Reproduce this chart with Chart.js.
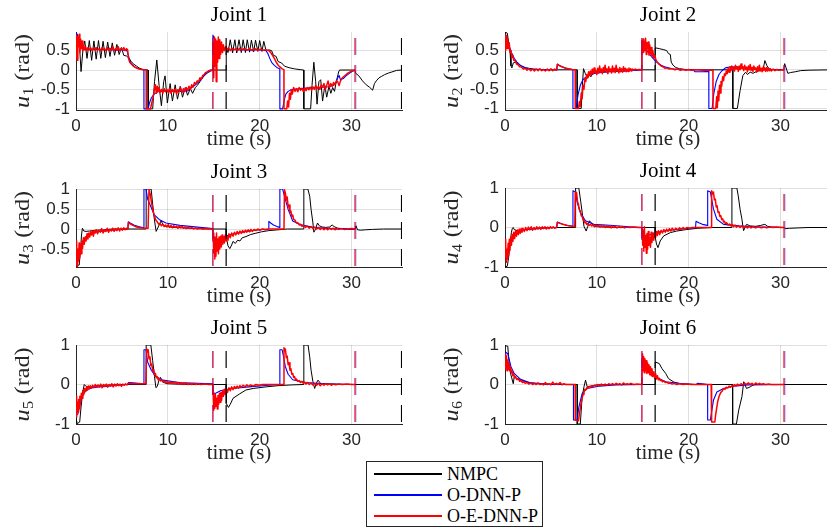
<!DOCTYPE html>
<html>
<head>
<meta charset="utf-8">
<script src="https://cdn.jsdelivr.net/npm/chart.js@4.4.1/dist/chart.umd.min.js"></script>
<style>
  body { margin: 0; width: 827px; height: 528px; overflow: hidden; background: #fff; position: relative; }
  canvas { position: absolute; }
  #legend { position: absolute; left: 366px; top: 461px; width: 175px; height: 64px; border: 1px solid #262626;
            background: #fff; font: 18px "Liberation Serif", serif; color: #000; }
  .entry { position: absolute; left: 0; width: 100%; height: 20px; line-height: 20px; }
  .entry i { position: absolute; left: 7px; top: 9px; width: 68px; height: 1.5px; }
  .entry span { position: absolute; left: 80px; top: 0; white-space: nowrap; }
</style>
</head>
<body>
<canvas id="j1"></canvas>
<canvas id="j2"></canvas>
<canvas id="j3"></canvas>
<canvas id="j4"></canvas>
<canvas id="j5"></canvas>
<canvas id="j6"></canvas>
<div id="legend">
  <div class="entry" style="top:2px"><i style="background:#000"></i><span>NMPC</span></div>
  <div class="entry" style="top:23px"><i style="background:#0000ff"></i><span>O-DNN-P</span></div>
  <div class="entry" style="top:44px"><i style="background:#ff0000"></i><span>O-E-DNN-P</span></div>
</div>
<script>
// axis ticks
const timeTicks = [0, 10, 20, 30];
const yTicksWide = [-1, -0.5, 0, 0.5];
const yTicksJ3 = [-0.5, 0, 0.5, 1];
const yTicksUnit = [-1, 0, 1];

// time (s) at which each controller finishes a run
const nmpcEnds = [16.35, 35.45];
const dnnEnds = [14.9, 30.45];
const ednnEnds = [14.9, 30.37];

// joint 1 inputs, [t, u]
const nmpc1 = [[0,0.96],[0.2,0.9],[0.4,0.55],[0.55,-0.04],[0.75,0.5],[0.95,0.75],[1.2,0.3],[1.45,0.76],[1.7,0.25],[1.95,0.75],[2.2,0.28],[2.45,0.76],[2.7,0.3],[2.95,0.74],[3.2,0.32],[3.45,0.72],[3.7,0.35],[3.95,0.7],[4.2,0.38],[4.45,0.66],[4.7,0.4],[4.95,0.58],[5.2,0.38],[5.5,0.36],[5.8,0.3],[6.0,0.22],[6.3,0.15],[6.6,0.1],[6.9,0.05],[7.2,0.02],[7.5,0.01],[7.85,0],[7.86,-1],[8.35,-1],[8.55,-0.3],[8.8,0.26],[9.05,-0.4],[9.3,-0.92],[9.55,-0.3],[9.7,-0.15],[9.95,-0.85],[10.25,-0.35],[10.5,-0.8],[10.8,-0.38],[11.05,-0.75],[11.35,-0.42],[11.6,-0.7],[11.9,-0.45],[12.15,-0.65],[12.45,-0.48],[12.7,-0.6],[13.0,-0.45],[13.2,-0.4],[13.5,-0.3],[13.8,-0.2],[14.1,-0.08],[14.4,-0.02],[14.6,0],[16.35,0],[16.36,0.6],[16.55,0.45],[16.8,0.78],[17.05,0.44],[17.3,0.78],[17.5,0.44],[17.75,0.78],[18.0,0.45],[18.2,0.78],[18.45,0.45],[18.65,0.78],[18.9,0.46],[19.1,0.77],[19.35,0.47],[19.55,0.77],[19.8,0.48],[20.0,0.76],[20.25,0.48],[20.45,0.74],[20.7,0.5],[21.0,0.52],[21.3,0.5],[21.5,0.38],[21.8,0.35],[22.0,0.22],[22.4,0.18],[22.7,0.1],[23.2,0.06],[23.8,0.03],[24.4,0.01],[24.8,0],[24.81,-1],[25.55,-1],[25.7,-0.4],[25.9,0.2],[26.1,-0.3],[26.25,-0.88],[26.45,-0.3],[26.65,-0.25],[26.85,-0.8],[27.1,-0.4],[27.3,-0.7],[27.55,-0.42],[27.75,-0.6],[27.95,-0.45],[28.15,-0.55],[28.3,-0.35],[28.45,-0.2],[28.6,-0.05],[28.7,0],[30.35,0],[30.45,-0.08],[30.8,-0.15],[31.2,-0.28],[31.6,-0.38],[32.0,-0.45],[32.3,-0.52],[32.5,-0.35],[32.7,-0.28],[33.0,-0.2],[33.3,-0.16],[33.6,-0.12],[34.0,-0.08],[34.4,-0.05],[34.9,-0.01],[35.45,0]];
const dnn1 = [[0,0.97],[0.15,0.9],[0.35,0.65],[0.6,0.56],[1.0,0.54],[2,0.53],[3,0.53],[4,0.52],[5,0.52],[5.55,0.5],[5.7,0.38],[5.85,0.25],[6.0,0.18],[6.3,0.1],[6.6,0.05],[7.0,0.02],[7.39,0.01],[7.4,-1],[7.85,-1],[8.0,-0.85],[8.2,-0.72],[8.5,-0.62],[8.9,-0.56],[9.5,-0.54],[10.5,-0.55],[11.5,-0.55],[12.2,-0.53],[12.6,-0.45],[13.0,-0.38],[13.4,-0.3],[13.8,-0.18],[14.2,-0.09],[14.6,-0.03],[14.9,0],[14.91,0.9],[15.2,0.75],[15.6,0.62],[16.0,0.56],[17,0.53],[18,0.52],[19,0.52],[20,0.52],[20.7,0.5],[20.9,0.42],[21.1,0.3],[21.3,0.2],[21.6,0.12],[21.9,0.06],[22.19,0.03],[22.2,-1],[22.5,-1],[22.65,-0.8],[22.85,-0.62],[23.1,-0.55],[23.5,-0.5],[24.5,-0.48],[25.5,-0.46],[26.5,-0.45],[27.5,-0.43],[28.0,-0.4],[28.3,-0.33],[28.5,-0.2],[28.65,-0.14],[28.8,-0.25],[29.1,-0.22],[29.4,-0.15],[29.8,-0.08],[30.1,-0.03],[30.4,0]];
const ednn1 = [[0,0.3],[0.05,0.9],[0.12,0.25],[0.2,0.85],[0.28,0.6],[0.35,0.92],[0.42,0.45],[0.5,0.8],[0.58,0.55],[0.66,0.75],[0.75,0.5],[0.85,0.62],[0.95,0.52],[1.05,0.6],[1.15,0.5],[1.3,0.58],[1.45,0.52],[1.6,0.57],[1.75,0.5],[1.9,0.56],[2.05,0.52],[2.2,0.58],[2.35,0.51],[2.5,0.55],[2.65,0.5],[2.8,0.57],[2.95,0.52],[3.1,0.55],[3.25,0.5],[3.4,0.58],[3.55,0.51],[3.7,0.56],[3.85,0.52],[4.0,0.6],[4.15,0.5],[4.3,0.55],[4.45,0.51],[4.6,0.6],[4.75,0.5],[4.9,0.56],[5.05,0.52],[5.2,0.58],[5.35,0.5],[5.5,0.55],[5.62,0.52],[5.72,0.3],[5.85,0.2],[6.0,0.16],[6.2,0.11],[6.45,0.07],[6.7,0.04],[7.0,0.02],[7.3,0.01],[7.64,0],[7.65,-1],[8.1,-1],[8.25,-0.85],[8.4,-0.7],[8.55,-0.5],[8.65,-0.38],[8.75,-0.6],[8.85,-0.42],[8.95,-0.55],[9.05,-0.45],[9.15,-0.58],[9.3,-0.5],[9.45,-0.6],[9.6,-0.48],[9.75,-0.56],[9.9,-0.5],[10.05,-0.58],[10.2,-0.47],[10.35,-0.6],[10.5,-0.5],[10.65,-0.57],[10.8,-0.49],[10.95,-0.62],[11.1,-0.5],[11.25,-0.55],[11.4,-0.46],[11.55,-0.58],[11.7,-0.48],[11.85,-0.55],[12.0,-0.45],[12.15,-0.53],[12.3,-0.42],[12.45,-0.5],[12.6,-0.38],[12.75,-0.44],[12.9,-0.32],[13.05,-0.36],[13.2,-0.28],[13.35,-0.3],[13.5,-0.2],[13.65,-0.24],[13.8,-0.14],[13.95,-0.12],[14.1,-0.07],[14.3,-0.05],[14.5,-0.02],[14.7,-0.01],[14.9,0],[14.92,0.7],[15.0,-0.2],[15.07,0.85],[15.14,0.1],[15.2,0.8],[15.27,-0.3],[15.34,0.75],[15.42,0.2],[15.5,0.85],[15.58,0.3],[15.66,0.78],[15.75,0.4],[15.85,0.72],[15.95,0.45],[16.05,0.65],[16.15,0.5],[16.3,0.6],[16.45,0.52],[16.6,0.57],[16.8,0.5],[17.0,0.56],[17.2,0.52],[17.4,0.55],[17.6,0.5],[17.8,0.56],[18.0,0.52],[18.3,0.55],[18.6,0.51],[18.9,0.54],[19.2,0.5],[19.5,0.55],[19.8,0.51],[20.1,0.54],[20.4,0.51],[20.7,0.52],[21.0,0.5],[21.2,0.45],[21.4,0.38],[21.6,0.3],[21.8,0.2],[22.0,0.13],[22.2,0.08],[22.45,0.03],[22.64,0.01],[22.65,-1],[22.95,-1],[23.05,-0.8],[23.15,-0.95],[23.25,-0.6],[23.35,-0.75],[23.45,-0.5],[23.55,-0.62],[23.7,-0.45],[23.85,-0.55],[24.0,-0.48],[24.15,-0.56],[24.3,-0.45],[24.45,-0.52],[24.6,-0.47],[24.75,-0.55],[24.9,-0.46],[25.05,-0.53],[25.2,-0.45],[25.35,-0.51],[25.5,-0.44],[25.65,-0.52],[25.8,-0.43],[25.95,-0.5],[26.1,-0.4],[26.25,-0.48],[26.4,-0.42],[26.55,-0.5],[26.7,-0.38],[26.85,-0.45],[27.0,-0.35],[27.15,-0.5],[27.3,-0.4],[27.45,-0.28],[27.6,-0.45],[27.75,-0.35],[27.9,-0.42],[28.05,-0.32],[28.2,-0.38],[28.35,-0.28],[28.5,-0.3],[28.65,-0.4],[28.8,-0.28],[29.0,-0.2],[29.3,-0.14],[29.6,-0.08],[30.0,-0.03],[30.4,0]];

// joint 2
const nmpc2 = [[0,0.98],[0.25,0.95],[0.4,0.7],[0.55,0.45],[0.65,0.1],[0.75,0.05],[0.9,0.18],[1.1,0.2],[1.4,0.16],[1.8,0.1],[2.3,0.05],[3,0.02],[4,0],[7.85,0],[7.86,-1],[8.3,-1],[8.45,-0.3],[8.55,0.03],[8.75,-0.1],[9.0,-0.22],[9.15,-0.12],[9.35,-0.18],[9.6,-0.08],[10.0,-0.06],[10.5,-0.05],[11.5,-0.04],[12.5,-0.03],[14.0,-0.01],[14.5,0],[16.35,0],[16.36,0.57],[16.8,0.55],[17.3,0.52],[17.6,0.5],[17.8,0.42],[18.0,0.4],[18.1,0.2],[18.3,0.12],[18.6,0.06],[19.0,0.03],[19.6,0.01],[20.5,0],[24.8,0],[24.81,-1],[25.3,-1],[25.6,-0.54],[25.9,-0.15],[26.2,-0.06],[26.4,-0.12],[26.7,-0.06],[27.0,-0.09],[27.4,-0.04],[27.8,-0.02],[28.1,0.0],[28.3,0.24],[28.5,0.12],[28.7,0.04],[28.9,0.01],[30.35,0],[30.45,0.16],[30.6,0.06],[30.8,-0.09],[31.1,-0.07],[31.6,-0.05],[32.2,-0.02],[33,-0.01],[35.45,0]];
const dnn2 = [[0,0.93],[0.2,0.85],[0.45,0.62],[0.7,0.45],[1.0,0.3],[1.3,0.2],[1.7,0.11],[2.2,0.05],[3,0.02],[4,0.01],[5.65,0],[5.7,0.15],[5.9,0.12],[6.3,0.07],[6.8,0.03],[7.39,0.01],[7.4,-1],[7.75,-1],[7.95,-0.65],[8.2,-0.4],[8.5,-0.25],[9,-0.16],[9.6,-0.1],[10.5,-0.07],[11.5,-0.05],[12.5,-0.04],[13.5,-0.02],[14.9,0],[14.91,0.75],[15.2,0.6],[15.6,0.45],[16.0,0.33],[16.5,0.2],[17.0,0.12],[17.5,0.07],[18.2,0.03],[19,0.01],[20.5,0],[20.7,-0.05],[21.5,-0.05],[22.19,-0.04],[22.2,-1],[22.55,-1],[22.75,-0.6],[23.0,-0.3],[23.3,-0.12],[23.6,-0.03],[24.0,0.05],[24.6,0.08],[25.3,0.07],[26,0.05],[27,0.02],[28,0.01],[30.4,0]];
const ednn2 = [[0,0.5],[0.04,0.9],[0.1,0.6],[0.16,0.88],[0.22,0.55],[0.3,0.8],[0.38,0.55],[0.46,0.7],[0.55,0.45],[0.65,0.5],[0.75,0.32],[0.85,0.38],[0.95,0.25],[1.1,0.24],[1.25,0.15],[1.4,0.14],[1.6,0.08],[1.8,0.07],[2.0,0.02],[2.2,0.04],[2.4,-0.01],[2.6,0.03],[2.8,-0.02],[3.0,0.02],[3.2,-0.03],[3.4,0.02],[3.6,-0.02],[3.8,0.03],[4.0,-0.02],[4.2,0.01],[4.4,-0.03],[4.6,0.02],[4.8,-0.02],[5.0,0.03],[5.2,-0.02],[5.4,0.02],[5.6,-0.01],[5.7,0.14],[5.9,0.11],[6.2,0.08],[6.5,0.05],[6.9,0.03],[7.3,0.01],[7.64,0],[7.65,-1],[8.0,-1],[8.1,-0.82],[8.2,-0.95],[8.3,-0.6],[8.4,-0.75],[8.5,-0.4],[8.6,-0.5],[8.7,-0.22],[8.8,-0.3],[8.9,-0.12],[9.0,-0.2],[9.1,-0.05],[9.2,-0.15],[9.3,-0.03],[9.4,-0.12],[9.5,0.02],[9.6,-0.1],[9.7,0.05],[9.8,-0.08],[9.9,-0.02],[10.0,-0.12],[10.1,0.04],[10.2,-0.08],[10.3,0.1],[10.4,-0.06],[10.5,0.02],[10.6,-0.1],[10.7,0.06],[10.8,-0.04],[10.9,0.12],[11.0,-0.05],[11.1,0.03],[11.2,-0.1],[11.3,0.08],[11.4,-0.04],[11.5,0.02],[11.6,-0.08],[11.7,0.1],[11.8,-0.05],[11.9,0.04],[12.0,-0.07],[12.1,0.12],[12.2,-0.03],[12.3,0.02],[12.4,-0.08],[12.5,0.06],[12.6,-0.05],[12.7,0.03],[12.8,-0.06],[12.9,0.08],[13.0,-0.02],[13.1,0.04],[13.2,-0.05],[13.3,0.02],[13.4,-0.04],[13.5,0.05],[13.6,-0.02],[13.7,0.03],[13.8,-0.03],[13.9,0.02],[14.0,-0.01],[14.2,0.02],[14.4,0],[14.6,0.01],[14.9,0],[14.92,0.75],[14.98,0.5],[15.04,0.8],[15.1,0.45],[15.17,0.75],[15.24,0.5],[15.31,0.82],[15.38,0.4],[15.45,0.7],[15.52,0.55],[15.6,0.72],[15.68,0.38],[15.76,0.65],[15.84,0.42],[15.92,0.58],[16.0,0.35],[16.1,0.5],[16.2,0.3],[16.3,0.38],[16.45,0.25],[16.6,0.2],[16.8,0.14],[17.0,0.1],[17.2,0.08],[17.4,0.04],[17.6,0.05],[17.9,0.02],[18.2,0.03],[18.5,0],[18.8,0.02],[19.1,-0.01],[19.4,0.01],[19.7,-0.01],[20.0,0.01],[20.3,-0.01],[20.6,0],[21.0,0],[21.5,-0.01],[22.0,-0.01],[22.64,-0.01],[22.65,-1],[22.95,-1],[23.05,-0.7],[23.12,-0.98],[23.2,-0.55],[23.28,-0.8],[23.36,-0.4],[23.44,-0.6],[23.52,-0.3],[23.6,-0.42],[23.7,-0.18],[23.8,-0.28],[23.9,-0.1],[24.0,-0.15],[24.1,-0.03],[24.2,-0.1],[24.3,0.04],[24.4,-0.06],[24.5,0.08],[24.6,-0.02],[24.7,0.1],[24.8,0],[24.9,0.06],[25.0,-0.03],[25.1,0.12],[25.2,0.02],[25.3,0.08],[25.4,-0.04],[25.5,0.1],[25.6,0],[25.7,0.15],[25.8,0.03],[25.9,0.08],[26.0,-0.02],[26.1,0.12],[26.2,0.01],[26.3,0.07],[26.4,-0.05],[26.5,0.1],[26.6,0],[26.7,0.14],[26.8,-0.02],[26.9,0.06],[27.0,-0.04],[27.1,0.1],[27.2,0.01],[27.3,0.05],[27.4,-0.06],[27.5,0.08],[27.6,-0.02],[27.7,0.12],[27.8,-0.03],[27.9,0.04],[28.0,-0.05],[28.1,0.07],[28.2,-0.02],[28.3,0.05],[28.4,-0.04],[28.5,0.06],[28.6,-0.03],[28.7,0.04],[28.8,-0.02],[28.9,0.03],[29.0,-0.03],[29.2,0.02],[29.4,-0.02],[29.6,0.01],[29.8,-0.01],[30.1,0],[30.4,0]];

// joint 3
const nmpc3 = [[0,-0.92],[0.35,-0.9],[0.5,-0.5],[0.6,-0.15],[0.7,0.02],[0.85,-0.05],[1.1,-0.06],[1.5,-0.05],[2.2,-0.03],[3,-0.02],[4,0],[7.63,0],[7.64,1],[8.18,1],[8.35,0.62],[8.5,0.3],[8.62,0.1],[8.73,-0.06],[8.95,0.05],[9.27,0.21],[9.45,0.12],[9.7,0.07],[10.5,0.04],[11.5,0.03],[13,0.01],[14.5,0],[16.35,0],[16.36,-0.2],[16.55,-0.42],[16.75,-0.49],[16.95,-0.4],[17.1,-0.31],[17.35,-0.36],[17.6,-0.28],[17.85,-0.3],[18.1,-0.22],[18.5,-0.19],[19.0,-0.14],[19.5,-0.11],[20.2,-0.07],[21.0,-0.04],[22.0,-0.02],[23.0,0],[24.8,0],[24.81,1],[25.25,1],[25.45,0.82],[25.6,0.49],[25.8,0.15],[25.9,-0.08],[26.05,-0.02],[26.3,0.15],[26.5,0.08],[26.8,0.05],[27.2,0.04],[27.6,0.05],[27.9,0.1],[28.1,0.06],[28.5,0.02],[29.0,0.01],[29.5,0.0],[30.0,-0.01],[30.4,0],[30.5,0.08],[30.65,-0.02],[31.0,-0.03],[31.5,-0.02],[32.3,-0.01],[33.5,0],[35.45,0]];
const dnn3 = [[0,-0.93],[0.15,-0.85],[0.35,-0.6],[0.6,-0.38],[0.9,-0.24],[1.3,-0.14],[1.8,-0.09],[2.5,-0.06],[3.5,-0.04],[4.5,-0.02],[5.65,0],[5.7,0.18],[5.9,0.15],[6.3,0.1],[6.8,0.06],[7.39,0.03],[7.4,1],[7.63,1],[7.8,0.75],[8.2,0.53],[8.5,0.36],[9.05,0.24],[9.8,0.15],[11.3,0.09],[13.5,0.04],[14.9,0.01],[14.91,-0.3],[15.2,-0.35],[15.5,-0.28],[15.9,-0.22],[16.4,-0.17],[17,-0.13],[17.8,-0.09],[18.6,-0.06],[19.5,-0.03],[20.3,-0.01],[20.95,0],[21.0,0.19],[21.2,0.15],[21.5,0.1],[21.9,0.06],[22.19,0.04],[22.2,1],[22.5,1],[22.7,0.82],[23.1,0.49],[23.6,0.2],[24.4,0.11],[25.8,0.04],[27.5,0.01],[30.4,0]];
const ednn3 = [[0,-0.3],[0.04,-0.9],[0.1,-0.6],[0.16,-0.95],[0.22,-0.5],[0.28,-0.8],[0.34,-0.35],[0.4,-0.72],[0.48,-0.4],[0.56,-0.62],[0.64,-0.3],[0.72,-0.48],[0.8,-0.22],[0.9,-0.38],[1.0,-0.2],[1.1,-0.3],[1.2,-0.12],[1.3,-0.25],[1.4,-0.1],[1.5,-0.2],[1.6,-0.06],[1.7,-0.15],[1.8,-0.05],[1.9,-0.18],[2.0,-0.04],[2.1,-0.1],[2.2,-0.02],[2.35,-0.12],[2.5,-0.03],[2.65,-0.08],[2.8,0.01],[2.95,-0.1],[3.1,-0.02],[3.25,-0.06],[3.4,0.02],[3.55,-0.08],[3.7,-0.01],[3.85,-0.05],[4.0,0.02],[4.15,-0.06],[4.3,0.01],[4.45,-0.04],[4.6,0.03],[4.75,-0.05],[4.9,0.02],[5.05,-0.03],[5.2,0.03],[5.35,-0.02],[5.5,0.02],[5.65,0],[5.7,0.16],[5.9,0.13],[6.2,0.09],[6.6,0.05],[7.0,0.03],[7.5,0.02],[7.85,0.02],[7.95,0.98],[8.1,0.85],[8.25,0.62],[8.4,0.45],[8.55,0.32],[8.7,0.22],[8.85,0.18],[9.0,0.12],[9.15,0.14],[9.3,0.08],[9.45,0.12],[9.6,0.06],[9.75,0.1],[9.9,0.05],[10.05,0.11],[10.2,0.04],[10.35,0.09],[10.5,0.03],[10.65,0.08],[10.8,0.04],[10.95,0.07],[11.1,0.02],[11.25,0.08],[11.4,0.03],[11.55,0.06],[11.7,0.02],[11.85,0.05],[12.0,0.01],[12.2,0.05],[12.4,0.01],[12.6,0.04],[12.8,0],[13.0,0.03],[13.2,0],[13.5,0.02],[13.8,0],[14.2,0.01],[14.9,0],[14.93,-0.1],[15.0,-0.6],[15.06,-0.2],[15.12,-0.75],[15.18,-0.3],[15.24,-0.68],[15.3,-0.1],[15.37,-0.55],[15.44,-0.25],[15.51,-0.62],[15.58,-0.2],[15.66,-0.5],[15.74,-0.18],[15.82,-0.45],[15.9,-0.15],[15.98,-0.38],[16.07,-0.2],[16.16,-0.35],[16.25,-0.15],[16.35,-0.3],[16.45,-0.18],[16.55,-0.28],[16.65,-0.12],[16.8,-0.22],[16.95,-0.1],[17.1,-0.18],[17.25,-0.08],[17.4,-0.15],[17.55,-0.06],[17.7,-0.13],[17.85,-0.05],[18.0,-0.11],[18.15,-0.04],[18.3,-0.09],[18.45,-0.03],[18.6,-0.08],[18.75,-0.02],[18.9,-0.07],[19.05,-0.01],[19.2,-0.06],[19.4,-0.01],[19.6,-0.04],[19.8,0],[20.0,-0.03],[20.3,0],[20.6,-0.02],[21.0,0],[22.65,0],[22.7,0.98],[22.8,0.9],[22.9,0.72],[23.0,0.8],[23.1,0.55],[23.2,0.6],[23.3,0.42],[23.4,0.45],[23.5,0.32],[23.6,0.35],[23.7,0.24],[23.85,0.22],[24.0,0.15],[24.15,0.16],[24.3,0.1],[24.45,0.12],[24.6,0.07],[24.8,0.09],[25.0,0.04],[25.2,0.07],[25.4,0.02],[25.6,0.06],[25.8,0.01],[26.0,0.05],[26.2,0],[26.4,0.04],[26.6,-0.01],[26.8,0.03],[27.0,-0.02],[27.2,0.02],[27.4,-0.02],[27.6,0.03],[27.8,-0.01],[28.0,0.02],[28.2,-0.02],[28.4,0.01],[28.6,-0.01],[28.9,0.01],[29.2,-0.01],[29.6,0],[30.0,0.01],[30.4,0]];

// joint 4
const nmpc4 = [[0,-1],[0.25,-0.98],[0.4,-0.75],[0.55,-0.4],[0.7,-0.12],[0.8,-0.02],[0.9,0.0],[1.0,-0.05],[1.3,-0.08],[1.7,-0.07],[2.3,-0.05],[3,-0.03],[4,-0.01],[5,0],[7.68,0],[7.69,1],[8.04,1],[8.25,0.65],[8.45,0.3],[8.6,0.03],[8.84,-0.09],[9.0,0.02],[9.2,0.17],[9.4,0.12],[9.6,0.04],[10,0.02],[11,0.01],[12,0],[16.35,0],[16.36,-0.25],[16.5,-0.42],[16.66,-0.51],[16.9,-0.34],[17.3,-0.21],[18.0,-0.13],[18.7,-0.09],[19.8,-0.05],[21,-0.02],[22.5,0],[24.7,0],[24.71,1],[25.25,1],[25.4,0.8],[25.6,0.46],[25.8,0.21],[25.9,0.04],[25.98,-0.08],[26.3,0.08],[26.7,0.04],[27.3,0.03],[27.8,0.05],[28.3,0.08],[28.6,0.03],[29,0.01],[30.4,0.0],[30.5,-0.03],[31,-0.02],[32,-0.01],[33,0],[35.45,0]];
const dnn4 = [[0,-0.76],[0.3,-0.74],[0.6,-0.38],[0.9,-0.2],[1.3,-0.11],[1.8,-0.07],[2.5,-0.05],[3.5,-0.03],[4.5,-0.01],[5.65,0],[5.7,0.14],[5.9,0.12],[6.3,0.08],[6.8,0.05],[7.39,0.03],[7.4,0.93],[7.68,0.9],[7.86,0.64],[8.2,0.38],[8.76,0.17],[9.67,0.08],[11.8,0.05],[13.5,0.02],[14.9,0],[14.91,-0.3],[15.2,-0.28],[15.6,-0.2],[16.2,-0.14],[17,-0.1],[18,-0.07],[19.5,-0.03],[20.6,-0.01],[20.75,0],[20.8,0.16],[21.1,0.12],[21.5,0.08],[21.9,0.06],[22.06,0.05],[22.07,0.93],[22.36,0.9],[22.7,0.47],[23.07,0.21],[23.8,0.08],[25.5,0.04],[27,0.02],[30.4,0]];
const ednn4 = [[0,-0.3],[0.05,-0.75],[0.1,-0.45],[0.16,-0.88],[0.22,-0.55],[0.28,-0.8],[0.34,-0.4],[0.4,-0.7],[0.47,-0.3],[0.54,-0.58],[0.62,-0.25],[0.7,-0.45],[0.78,-0.18],[0.86,-0.35],[0.95,-0.12],[1.05,-0.28],[1.15,-0.08],[1.25,-0.22],[1.35,-0.06],[1.45,-0.18],[1.55,-0.04],[1.65,-0.15],[1.75,-0.03],[1.85,-0.12],[1.95,-0.02],[2.1,-0.1],[2.25,0.0],[2.4,-0.08],[2.55,0.01],[2.7,-0.06],[2.85,0.02],[3.0,-0.07],[3.15,0.0],[3.3,-0.05],[3.45,0.02],[3.6,-0.04],[3.75,0.01],[3.9,-0.05],[4.05,0.02],[4.2,-0.03],[4.35,0.02],[4.5,-0.04],[4.65,0.01],[4.8,-0.03],[4.95,0.02],[5.1,-0.02],[5.25,0.02],[5.4,-0.02],[5.6,0],[5.7,0.13],[5.9,0.11],[6.3,0.08],[6.8,0.05],[7.3,0.03],[7.6,0.02],[7.65,0.9],[7.72,0.82],[7.8,0.88],[7.9,0.65],[8.0,0.58],[8.1,0.45],[8.2,0.42],[8.3,0.3],[8.4,0.28],[8.5,0.2],[8.6,0.19],[8.7,0.12],[8.8,0.13],[8.9,0.08],[9.0,0.1],[9.15,0.05],[9.3,0.08],[9.45,0.04],[9.6,0.07],[9.75,0.02],[9.9,0.06],[10.05,0.03],[10.2,0.06],[10.35,0.01],[10.5,0.05],[10.65,0.02],[10.8,0.05],[10.95,0.0],[11.1,0.04],[11.25,0.01],[11.4,0.04],[11.55,-0.01],[11.7,0.03],[11.85,0.0],[12.0,0.03],[12.2,-0.01],[12.4,0.02],[12.6,0],[12.8,0.02],[13.0,-0.01],[13.3,0.01],[13.6,0],[14.0,0.01],[14.5,0],[14.9,0],[14.93,-0.05],[15.0,-0.45],[15.06,-0.1],[15.12,-0.6],[15.18,0.02],[15.25,-0.5],[15.32,-0.2],[15.39,-0.65],[15.46,-0.15],[15.53,-0.55],[15.6,-0.1],[15.68,-0.45],[15.76,-0.25],[15.84,-0.5],[15.92,-0.12],[16.0,-0.38],[16.1,-0.15],[16.2,-0.32],[16.3,-0.12],[16.4,-0.25],[16.5,-0.1],[16.6,-0.2],[16.7,-0.08],[16.85,-0.18],[17.0,-0.07],[17.15,-0.14],[17.3,-0.05],[17.45,-0.12],[17.6,-0.04],[17.75,-0.1],[17.9,-0.03],[18.05,-0.09],[18.2,-0.02],[18.4,-0.07],[18.6,-0.02],[18.8,-0.06],[19.0,-0.01],[19.2,-0.05],[19.4,0],[19.6,-0.04],[19.8,0],[20.1,-0.02],[20.4,0],[20.8,0],[21.5,0],[22.45,0],[22.5,0.93],[22.6,0.85],[22.7,0.9],[22.8,0.7],[22.9,0.72],[23.0,0.52],[23.1,0.55],[23.2,0.38],[23.3,0.4],[23.4,0.28],[23.5,0.3],[23.6,0.2],[23.7,0.22],[23.8,0.14],[23.9,0.16],[24.0,0.1],[24.15,0.12],[24.3,0.06],[24.45,0.09],[24.6,0.04],[24.75,0.07],[24.9,0.02],[25.05,0.06],[25.2,0.01],[25.4,0.05],[25.6,0],[25.8,0.04],[26.0,0],[26.2,0.03],[26.4,-0.01],[26.6,0.03],[26.8,-0.01],[27.0,0.02],[27.3,-0.01],[27.6,0.02],[27.9,-0.01],[28.2,0.01],[28.5,-0.01],[28.8,0.01],[29.2,0],[29.6,0.01],[30.0,0],[30.4,0]];

// joint 5
const nmpc5 = [[0,-0.86],[0.14,-0.99],[0.4,-0.95],[0.55,-0.57],[0.73,-0.19],[0.9,0.0],[1.05,-0.04],[1.3,-0.06],[1.7,-0.05],[2.3,-0.03],[3,-0.02],[4,-0.01],[5,0],[7.63,0],[7.64,1],[8.15,1],[8.35,0.6],[8.55,0.2],[8.7,-0.08],[8.85,-0.05],[9.05,0.12],[9.2,0.18],[9.45,0.06],[9.9,0.02],[11,0.01],[12.5,0],[16.35,0],[16.36,-0.48],[16.6,-0.58],[16.8,-0.5],[17.1,-0.35],[17.8,-0.24],[18.5,-0.14],[19.3,-0.1],[20.7,-0.06],[22,-0.03],[23.5,-0.01],[24.8,0],[24.81,1],[25.27,1],[25.45,0.7],[25.6,0.36],[25.8,0.07],[25.99,-0.1],[26.15,0.02],[26.35,0.11],[26.7,0.01],[27,0.02],[28,0.01],[29,0],[35.45,0]];
const dnn5 = [[0,-0.78],[0.2,-0.75],[0.35,-0.6],[0.6,-0.35],[0.9,-0.2],[1.3,-0.12],[1.8,-0.08],[2.5,-0.06],[3.5,-0.04],[4.5,-0.02],[5.65,0],[5.7,0.05],[6.2,0.04],[7.39,0.02],[7.4,0.88],[7.63,0.88],[7.8,0.57],[8.2,0.36],[8.7,0.2],[9.45,0.11],[11.6,0.04],[14.9,0.02],[14.91,-0.25],[15.2,-0.22],[15.8,-0.15],[17,-0.1],[18.8,-0.06],[21,-0.02],[22.19,0],[22.2,0.88],[22.45,0.88],[22.8,0.45],[23.1,0.26],[23.6,0.12],[24.9,0.05],[27,0.02],[30.4,0]];
const ednn5 = [[0,-0.65],[0.04,-0.3],[0.1,-0.82],[0.16,-0.45],[0.22,-0.7],[0.28,-0.38],[0.34,-0.6],[0.42,-0.3],[0.5,-0.45],[0.58,-0.22],[0.66,-0.35],[0.75,-0.15],[0.85,-0.25],[0.95,-0.1],[1.05,-0.18],[1.15,-0.06],[1.25,-0.14],[1.35,-0.04],[1.45,-0.11],[1.55,-0.03],[1.65,-0.09],[1.8,-0.02],[1.95,-0.08],[2.1,0.0],[2.25,-0.07],[2.4,-0.01],[2.55,-0.06],[2.7,0.01],[2.85,-0.08],[3.0,0.0],[3.15,-0.05],[3.3,0.01],[3.45,-0.07],[3.6,0.0],[3.75,-0.04],[3.9,0.02],[4.05,-0.06],[4.2,0.01],[4.35,-0.04],[4.5,0.02],[4.65,-0.03],[4.8,0.01],[4.95,-0.05],[5.1,0.01],[5.25,-0.02],[5.4,0.02],[5.55,-0.01],[5.7,0.03],[6.0,0.02],[6.5,0.02],[7.0,0.02],[7.6,0.02],[7.7,0.9],[7.78,0.82],[7.86,0.88],[7.95,0.65],[8.05,0.7],[8.15,0.48],[8.25,0.52],[8.35,0.35],[8.45,0.38],[8.55,0.25],[8.65,0.28],[8.75,0.17],[8.85,0.2],[8.95,0.12],[9.05,0.15],[9.2,0.09],[9.35,0.11],[9.5,0.06],[9.65,0.09],[9.8,0.04],[9.95,0.08],[10.1,0.03],[10.25,0.07],[10.4,0.03],[10.55,0.06],[10.7,0.02],[10.85,0.06],[11.0,0.01],[11.15,0.05],[11.3,0.02],[11.45,0.05],[11.6,0.0],[11.75,0.04],[11.9,0.01],[12.05,0.04],[12.2,0.0],[12.4,0.03],[12.6,0],[12.8,0.03],[13.0,0],[13.3,0.02],[13.6,0],[14.0,0.01],[14.5,0],[14.9,0],[14.93,-0.2],[15.0,-0.65],[15.06,-0.3],[15.12,-0.6],[15.18,-0.25],[15.25,-0.55],[15.32,-0.35],[15.39,-0.62],[15.46,-0.28],[15.54,-0.5],[15.62,-0.22],[15.7,-0.45],[15.78,-0.2],[15.86,-0.4],[15.95,-0.15],[16.05,-0.3],[16.15,-0.12],[16.25,-0.25],[16.35,-0.1],[16.5,-0.2],[16.65,-0.08],[16.8,-0.16],[16.95,-0.06],[17.1,-0.13],[17.25,-0.05],[17.4,-0.1],[17.55,-0.04],[17.7,-0.09],[17.85,-0.03],[18.0,-0.07],[18.2,-0.02],[18.4,-0.06],[18.6,-0.01],[18.8,-0.05],[19.0,-0.01],[19.3,-0.04],[19.6,0],[19.9,-0.02],[20.3,0],[21,0],[22.6,0],[22.65,0.93],[22.72,0.85],[22.8,0.9],[22.9,0.68],[23.0,0.72],[23.1,0.5],[23.2,0.55],[23.3,0.36],[23.4,0.4],[23.5,0.26],[23.6,0.28],[23.7,0.18],[23.8,0.2],[23.9,0.12],[24.0,0.14],[24.15,0.08],[24.3,0.1],[24.45,0.05],[24.6,0.08],[24.75,0.03],[24.9,0.06],[25.05,0.01],[25.2,0.05],[25.4,0],[25.6,0.04],[25.8,-0.01],[26.0,0.03],[26.2,-0.02],[26.4,0.03],[26.6,-0.03],[26.8,0.02],[27.0,-0.02],[27.2,0.02],[27.4,-0.01],[27.6,0.02],[27.8,-0.02],[28.0,0.01],[28.3,-0.01],[28.6,0.01],[29,0],[29.5,0.01],[30,0],[30.4,0]];

// joint 6
const nmpc6 = [[0,0.98],[0.3,0.97],[0.48,0.45],[0.65,0.24],[0.9,0.02],[1.0,0.19],[1.3,0.15],[1.7,0.11],[2.3,0.07],[2.8,0.04],[3.5,0.02],[4.5,0.01],[5.5,0],[7.86,0],[7.87,-1],[8.2,-1],[8.4,-0.31],[8.6,-0.06],[8.77,0.11],[8.95,-0.06],[9.3,-0.04],[10,-0.01],[11,0],[16.35,0],[16.36,0.57],[16.8,0.53],[17.1,0.4],[17.5,0.28],[17.8,0.15],[18.4,0.06],[19.1,0.02],[20.5,0],[24.78,0],[24.79,-1],[25.2,-1],[25.45,-0.65],[25.8,-0.31],[26.0,0.07],[26.3,-0.1],[26.7,-0.06],[27.1,0],[35.45,0]];
const dnn6 = [[0,0.83],[0.3,0.78],[0.65,0.45],[1.0,0.28],[1.7,0.13],[2.8,0.04],[4.6,0.01],[7.45,0],[7.46,-0.9],[7.86,-0.9],[8.04,-0.57],[8.4,-0.23],[8.95,-0.1],[10.3,-0.04],[12,-0.01],[14.9,0],[14.91,0.65],[15.3,0.5],[15.7,0.36],[16.4,0.19],[17.5,0.07],[19.3,0.02],[20.8,0],[21.0,0.03],[21.5,0.02],[22.06,0],[22.07,-0.9],[22.36,-0.9],[22.7,-0.4],[23.07,-0.19],[23.8,-0.1],[24.9,-0.04],[26.5,-0.01],[30.4,0]];
const ednn6 = [[0,0.5],[0.04,0.77],[0.1,0.4],[0.16,0.72],[0.22,0.35],[0.28,0.62],[0.35,0.38],[0.42,0.55],[0.5,0.35],[0.58,0.45],[0.66,0.3],[0.75,0.36],[0.85,0.22],[0.95,0.27],[1.05,0.17],[1.15,0.2],[1.3,0.12],[1.45,0.15],[1.6,0.08],[1.75,0.1],[1.9,0.05],[2.05,0.07],[2.2,0.03],[2.4,0.05],[2.6,0.01],[2.8,0.04],[3.0,0.0],[3.2,0.03],[3.4,0.0],[3.6,0.04],[3.8,0.0],[4.0,0.02],[4.2,-0.01],[4.4,0.05],[4.6,0.0],[4.8,0.02],[5.0,-0.01],[5.2,0.06],[5.4,0.0],[5.6,0.03],[5.8,0.0],[6.0,0.05],[6.2,-0.01],[6.4,0.02],[6.6,0],[7.0,0],[7.64,0],[7.65,-0.9],[8.0,-0.92],[8.1,-0.75],[8.2,-0.6],[8.3,-0.45],[8.4,-0.35],[8.5,-0.25],[8.6,-0.2],[8.7,-0.12],[8.8,-0.14],[8.9,-0.08],[9.0,-0.1],[9.15,-0.05],[9.3,-0.07],[9.45,-0.03],[9.6,-0.05],[9.75,-0.02],[9.9,-0.04],[10.1,0.0],[10.3,-0.03],[10.5,0.01],[10.7,-0.02],[10.9,0.01],[11.1,-0.02],[11.3,0.02],[11.5,-0.01],[11.7,0.02],[11.9,-0.01],[12.1,0.03],[12.3,0.0],[12.5,0.02],[12.7,-0.01],[12.9,0.04],[13.1,0.0],[13.3,0.02],[13.5,0.0],[13.7,0.03],[14.0,0.0],[14.4,0.01],[14.9,0],[14.92,0.4],[14.98,0.77],[15.04,0.35],[15.1,0.7],[15.17,0.3],[15.24,0.65],[15.31,0.35],[15.38,0.6],[15.45,0.28],[15.52,0.55],[15.6,0.3],[15.68,0.5],[15.76,0.25],[15.84,0.45],[15.92,0.22],[16.0,0.4],[16.1,0.2],[16.2,0.32],[16.3,0.16],[16.4,0.28],[16.5,0.14],[16.6,0.22],[16.7,0.12],[16.8,0.16],[16.9,0.1],[17.0,0.12],[17.15,0.07],[17.3,0.09],[17.45,0.05],[17.6,0.06],[17.8,0.03],[18.0,0.04],[18.2,0.01],[18.4,0.03],[18.7,0],[19.0,0.02],[19.4,0],[19.8,0.01],[20.3,0],[21,0],[22.45,0],[22.5,-0.95],[22.85,-0.95],[22.95,-0.75],[23.05,-0.6],[23.15,-0.45],[23.25,-0.35],[23.35,-0.28],[23.5,-0.2],[23.65,-0.17],[23.8,-0.1],[23.95,-0.12],[24.1,-0.07],[24.25,-0.09],[24.4,-0.04],[24.55,-0.07],[24.7,-0.03],[24.85,-0.05],[25.0,0.0],[25.15,-0.04],[25.3,0.01],[25.5,-0.02],[25.7,0.02],[25.9,-0.01],[26.1,0.03],[26.3,0.0],[26.5,0.04],[26.7,0.0],[26.9,0.03],[27.1,-0.01],[27.3,0.04],[27.5,0.0],[27.7,0.03],[27.9,0.0],[28.1,0.02],[28.4,0.0],[28.7,0.01],[29.0,0],[29.5,0],[30.4,0]];

const axisColor = '#262626';
const gridColor = 'rgba(38,38,38,0.15)';
const tickFont = { family: '"Liberation Sans", Arial, sans-serif', size: 17 };
const serif = '"Liberation Serif", serif';

// canvas box [left, top, width, height] and plot area [left, top, right, bottom], page pixels
const panels = [
  { id: 'j1', title: 'Joint 1', joint: '1', yMin: -1.03, yMax: 0.98, yTicks: yTicksWide, nmpc: nmpc1, dnn: dnn1, ednn: ednn1, box: [0, 0, 414, 158], area: [76, 32, 402, 110] },
  { id: 'j2', title: 'Joint 2', joint: '2', yMin: -1.04, yMax: 0.98, yTicks: yTicksWide, nmpc: nmpc2, dnn: dnn2, ednn: ednn2, box: [414, 0, 430, 158], area: [505, 32, 831, 110] },
  { id: 'j3', title: 'Joint 3', joint: '3', yMin: -0.95, yMax: 1, yTicks: yTicksJ3, nmpc: nmpc3, dnn: dnn3, ednn: ednn3, box: [0, 158, 414, 158], area: [76, 189, 402, 267] },
  { id: 'j4', title: 'Joint 4', joint: '4', yMin: -1, yMax: 1, yTicks: yTicksUnit, nmpc: nmpc4, dnn: dnn4, ednn: ednn4, box: [414, 158, 430, 158], area: [505, 188, 831, 267] },
  { id: 'j5', title: 'Joint 5', joint: '5', yMin: -1, yMax: 1, yTicks: yTicksUnit, nmpc: nmpc5, dnn: dnn5, ednn: ednn5, box: [0, 316, 414, 160], area: [76, 345, 402, 424] },
  { id: 'j6', title: 'Joint 6', joint: '6', yMin: -1, yMax: 1, yTicks: yTicksUnit, nmpc: nmpc6, dnn: dnn6, ednn: ednn6, box: [414, 316, 430, 160], area: [505, 345, 831, 424] }
];

// title, x label and rotated u_k label
const panelText = {
  id: 'panelText',
  afterDraw(chart, args, opts) {
    const { ctx, chartArea: a } = chart;
    const cx = (a.left + a.right) / 2;
    ctx.save();
    ctx.textAlign = 'center';
    ctx.textBaseline = 'alphabetic';
    ctx.fillStyle = '#000';
    ctx.font = '21px ' + serif;
    ctx.fillText(opts.title, cx, a.top - 11);
    ctx.fillStyle = axisColor;
    ctx.fillText('time (s)', cx, a.bottom + 35);

    ctx.translate(a.left - 47, (a.top + a.bottom) / 2);
    ctx.rotate(-Math.PI / 2);
    ctx.scale(1.15, 1);
    ctx.textAlign = 'left';
    const uFont = 'italic 21px ' + serif;
    const subFont = '14px ' + serif;
    const restFont = '21px ' + serif;
    ctx.font = uFont; const wu = ctx.measureText('u').width;
    ctx.font = subFont; const ws = ctx.measureText(opts.joint).width;
    ctx.font = restFont; const wr = ctx.measureText(' (rad)').width;
    let x = -(wu + ws + wr + 1) / 2;
    ctx.font = uFont; ctx.fillText('u', x, 0); x += wu + 0.5;
    ctx.font = subFont; ctx.fillText(opts.joint, x, 4); x += ws + 0.5;
    ctx.font = restFont; ctx.fillText(' (rad)', x, 0);
    ctx.restore();
  }
};

function trace(pairs, color, width) {
  return {
    data: pairs.map(([x, y]) => ({ x, y })),
    borderColor: color, borderWidth: width, borderJoinStyle: 'round',
    pointRadius: 0, tension: 0, fill: false
  };
}

function marker(t, p, color, width) {
  return {
    data: [{ x: t, y: p.yMax }, { x: t, y: p.yMin }],
    borderColor: color, borderWidth: width, borderDash: [17, 10], borderDashOffset: -6,
    pointRadius: 0, fill: false
  };
}

panels.forEach(p => {
  const cv = document.getElementById(p.id);
  const [bx, by, bw, bh] = p.box;
  const [al, at, ar, ab] = p.area;
  cv.style.left = bx + 'px';
  cv.style.top = by + 'px';
  cv.width = bw;
  cv.height = bh;
  const yW = al - bx;
  const xH = by + bh - ab;

  const datasets = [];
  ednnEnds.forEach(t => datasets.push(marker(t, p, 'rgba(255,0,0,0.6)', 1.6)));
  dnnEnds.forEach(t => datasets.push(marker(t, p, 'rgba(0,0,255,0.4)', 1.6)));
  nmpcEnds.forEach(t => datasets.push(marker(t, p, '#000', 1.2)));
  datasets.push(trace(p.ednn, '#ff0000', 1.5));
  datasets.push(trace(p.dnn, '#0000ff', 1.1));
  datasets.push(trace(p.nmpc, '#000000', 1));

  new Chart(cv, {
    type: 'line',
    data: { datasets },
    plugins: [panelText],
    options: {
      responsive: false,
      animation: false,
      devicePixelRatio: 1,
      events: [],
      parsing: false,
      layout: { padding: { left: 0, top: at - by, right: bx + bw - ar, bottom: 0 } },
      plugins: {
        legend: { display: false },
        tooltip: { enabled: false },
        panelText: { title: p.title, joint: p.joint }
      },
      scales: {
        x: {
          type: 'linear', min: 0, max: 35.5,
          afterBuildTicks: s => { s.ticks = timeTicks.map(v => ({ value: v })); },
          afterFit: s => { s.height = xH; },
          grid: { color: gridColor, drawTicks: false },
          border: { color: axisColor, width: 1 },
          ticks: { padding: 6, color: axisColor, font: tickFont, autoSkip: false, maxRotation: 0, callback: v => String(v) }
        },
        y: {
          type: 'linear', min: p.yMin, max: p.yMax,
          afterBuildTicks: s => { s.ticks = p.yTicks.map(v => ({ value: v })); },
          afterFit: s => { s.width = yW; },
          grid: { color: gridColor, drawTicks: false },
          border: { color: axisColor, width: 1 },
          ticks: { padding: 6, color: axisColor, font: tickFont, autoSkip: false, callback: v => String(v) }
        }
      }
    }
  });
});
</script>
</body>
</html>
